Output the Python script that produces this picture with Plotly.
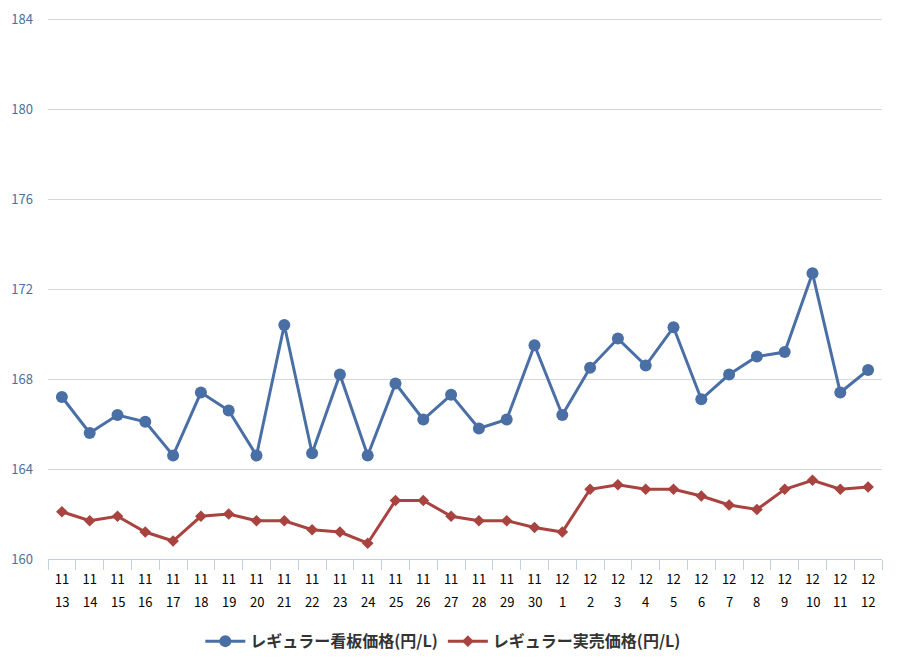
import plotly.graph_objects as go

months = ["11"] * 18 + ["12"] * 12
days = [str(d) for d in range(13, 31)] + [str(d) for d in range(1, 13)]
categories = [f"{m}/{d}" for m, d in zip(months, days)]

signboard = [167.2, 165.6, 166.4, 166.1, 164.6, 167.4, 166.6, 164.6, 170.4, 164.7,
             168.2, 164.6, 167.8, 166.2, 167.3, 165.8, 166.2, 169.5, 166.4, 168.5,
             169.8, 168.6, 170.3, 167.1, 168.2, 169.0, 169.2, 172.7, 167.4, 168.4]
actual = [162.1, 161.7, 161.9, 161.2, 160.8, 161.9, 162.0, 161.7, 161.7, 161.3,
          161.2, 160.7, 162.6, 162.6, 161.9, 161.7, 161.7, 161.4, 161.2, 163.1,
          163.3, 163.1, 163.1, 162.8, 162.4, 162.2, 163.1, 163.5, 163.1, 163.2]

y_ticks = [160, 164, 168, 172, 176, 180, 184]

font_family = "Noto Sans CJK JP, Noto Sans, sans-serif"

fig = go.Figure()
fig.add_trace(go.Scatter(
    x=categories, y=signboard, mode="lines+markers",
    name="レギュラー看板価格(円/L)",
    line=dict(color="#4A6FA5", width=3),
    marker=dict(symbol="circle", size=12, color="#4A6FA5"),
))
fig.add_trace(go.Scatter(
    x=categories, y=actual, mode="lines+markers",
    name="レギュラー実売価格(円/L)",
    line=dict(color="#A8433F", width=3),
    marker=dict(symbol="diamond", size=9, color="#A8433F"),
))

# second row of x labels (day)
for c, d in zip(categories, days):
    fig.add_annotation(x=c, y=-0.079, xref="x", yref="paper", text=d,
                       showarrow=False, yanchor="middle", xanchor="center",
                       font=dict(size=13, color="#000000", family=font_family))

fig.update_layout(
    width=900, height=663,
    margin=dict(l=40, r=26, t=10, b=112),
    paper_bgcolor="white", plot_bgcolor="white",
    font=dict(family=font_family, size=13, color="#000000"),
    showlegend=True,
    legend=dict(orientation="h", x=0.474, xanchor="center", y=-0.152, yanchor="middle",
                font=dict(size=16, color="#333333", weight="bold"), itemwidth=40),
    xaxis=dict(
        type="category", range=[-0.5, len(categories) - 0.5],
        tickmode="array", tickvals=categories, ticktext=months,
        tickson="boundaries", ticks="outside", ticklen=10, tickcolor="#C0D0E0",
        showline=True, linecolor="#C0D0E0", linewidth=1,
        showgrid=False, zeroline=False, automargin=False,
        ticklabelstandoff=8,
        tickfont=dict(size=13, color="#000000"),
    ),
    yaxis=dict(
        range=[160, 184.05], tickmode="array", tickvals=y_ticks,
        showgrid=True, gridcolor="#D8D8D8", gridwidth=1,
        zeroline=False, showline=False, automargin=False,
        ticklabelstandoff=14, ticklabeloverflow="allow",
        tickfont=dict(size=13, color="#4D6FA0"),
    ),
)

fig.write_html("out.html")
